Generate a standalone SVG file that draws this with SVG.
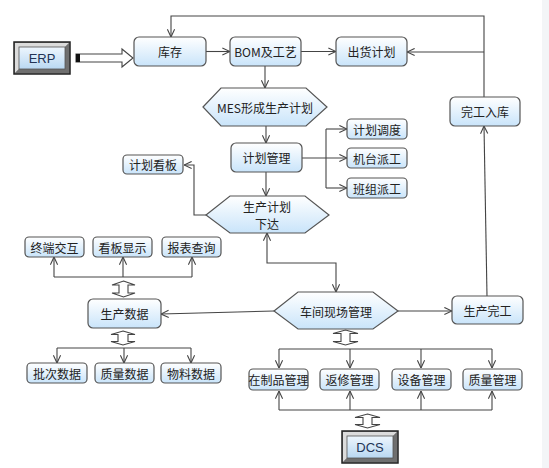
<svg xmlns="http://www.w3.org/2000/svg" width="549" height="468" viewBox="0 0 549 468">
<defs>
<linearGradient id="g" x1="0" y1="0" x2="0" y2="1">
<stop offset="0" stop-color="#ffffff"/>
<stop offset="1" stop-color="#c9e4fa"/>
</linearGradient>
<linearGradient id="gb" x1="0" y1="0" x2="0" y2="1">
<stop offset="0" stop-color="#eef6fd"/>
<stop offset="1" stop-color="#b9d8f2"/>
</linearGradient>
<marker id="a" viewBox="0 0 10 10" refX="9.5" refY="5" markerWidth="9" markerHeight="9" markerUnits="userSpaceOnUse" orient="auto-start-reverse">
<path d="M1,1 L9.5,5 L1,9" fill="none" stroke="#444" stroke-width="1.2"/>
</marker>
<style>
.b{fill:url(#g);stroke:#555;stroke-width:1.2}
.t{font-family:"Noto Sans CJK SC","Liberation Sans",sans-serif;font-size:12px;fill:#222;text-anchor:middle;dominant-baseline:central}
.c{fill:none;stroke:#444;stroke-width:1.1}
.ar{marker-end:url(#a)}
.ib{fill:#fff;stroke:#444;stroke-width:1.1}
.bt{font-family:"Liberation Sans",sans-serif;font-size:13px;fill:#223355;text-anchor:middle;dominant-baseline:central}
</style>
</defs>
<rect width="549" height="468" fill="#fff"/>
<rect x="542" y="0" width="7" height="468" fill="#f3f5f7"/>

<g id="connectors">
<line class="c ar" x1="206" y1="51.5" x2="230" y2="51.5"/>
<line class="c ar" x1="301" y1="51.5" x2="336" y2="51.5"/>
<line class="c ar" x1="265" y1="66" x2="265" y2="88"/>
<line class="c ar" x1="266" y1="126" x2="266" y2="143"/>
<line class="c ar" x1="266" y1="172" x2="266" y2="196"/>
<line class="c ar" x1="302" y1="158" x2="347" y2="158"/>
<line class="c" x1="326" y1="129" x2="326" y2="188"/>
<line class="c ar" x1="326" y1="129" x2="347" y2="129"/>
<line class="c ar" x1="326" y1="188" x2="347" y2="188"/>
<path class="c ar" d="M206,215 L194,215 L194,165 L184,165"/>
<path class="c" d="M267,233 L267,263 L336,263 L336,292" marker-start="url(#a)" marker-end="url(#a)"/>
<line class="c ar" x1="274" y1="311" x2="161" y2="314"/>
<line class="c ar" x1="398" y1="311" x2="452" y2="311"/>
<line class="c ar" x1="487" y1="296" x2="484" y2="126"/>
<path class="c ar" d="M484,97 L484,16 L171,16 L171,37"/>
<line class="c ar" x1="484" y1="52" x2="407" y2="52"/>
<line class="c" x1="54" y1="277" x2="192" y2="277"/>
<line class="c ar" x1="54" y1="277" x2="54" y2="257"/>
<line class="c ar" x1="123" y1="277" x2="123" y2="257"/>
<line class="c ar" x1="192" y1="277" x2="192" y2="257"/>
<line class="c" x1="57" y1="348" x2="191" y2="348"/>
<line class="c ar" x1="57" y1="348" x2="57" y2="363"/>
<line class="c ar" x1="124" y1="348" x2="124" y2="363"/>
<line class="c ar" x1="191" y1="348" x2="191" y2="363"/>
<line class="c" x1="279" y1="349" x2="492" y2="349"/>
<line class="c ar" x1="279" y1="349" x2="279" y2="368"/>
<line class="c ar" x1="350" y1="349" x2="350" y2="368"/>
<line class="c ar" x1="421" y1="349" x2="421" y2="368"/>
<line class="c ar" x1="492" y1="349" x2="492" y2="368"/>
<line class="c" x1="279" y1="410" x2="492" y2="410"/>
<line class="c ar" x1="279" y1="410" x2="279" y2="391"/>
<line class="c ar" x1="350" y1="410" x2="350" y2="391"/>
<line class="c ar" x1="421" y1="410" x2="421" y2="391"/>
<line class="c ar" x1="492" y1="410" x2="492" y2="391"/>
<!-- hollow double arrows -->
<polygon class="ib" points="123.5,281 135,285 128,285 128,293 135,293 123.5,297 112,293 119,293 119,285 112,285"/>
<polygon class="ib" points="123,331 135,334.5 128,334.5 128,341.5 135,341.5 123,345 111,341.5 118,341.5 118,334.5 111,334.5"/>
<polygon class="ib" points="345.5,330 358,333.5 350,333.5 350,341.5 358,341.5 345.5,345 333,341.5 341,341.5 341,333.5 333,333.5"/>
<polygon class="ib" points="367.5,414 380,417.5 372,417.5 372,424.5 380,424.5 367.5,428 355,424.5 363,424.5 363,417.5 355,417.5"/>
<!-- ERP block arrow -->
<polygon class="ib" points="76,54 122,54 122,49 133,58 122,67 122,62 76,62"/>
<rect x="76" y="54" width="4" height="8" fill="#111"/>
</g>

<g id="erp">
<rect x="14" y="42" width="56" height="32" fill="#8c8c8c" stroke="#222" stroke-width="1.5"/>
<polygon points="15,43 69,43 65,47 19,47 19,69 15,73" fill="#dcdcdc"/>
<polygon points="69,43 69,73 15,73 19,69 65,69 65,47" fill="#6f6f6f"/>
<rect x="19" y="47" width="46" height="22" fill="url(#gb)" stroke="#555" stroke-width="0.8"/>
<text class="bt" x="42" y="58">ERP</text>
</g>
<g id="dcs">
<rect x="342" y="431" width="56" height="32" fill="#8c8c8c" stroke="#222" stroke-width="1.5"/>
<polygon points="343,432 397,432 393,436 347,436 347,458 343,462" fill="#dcdcdc"/>
<polygon points="397,432 397,462 343,462 347,458 393,458 393,436" fill="#6f6f6f"/>
<rect x="347" y="436" width="46" height="22" fill="url(#gb)" stroke="#555" stroke-width="0.8"/>
<text class="bt" x="370" y="447">DCS</text>
</g>

<g id="kucun"><rect class="b" x="134" y="37" width="72" height="29" rx="5"/><text class="t" x="170" y="51.5">库存</text></g>
<g id="bom"><rect class="b" x="230" y="37" width="71" height="29" rx="5"/><text class="t" x="265.5" y="51.5">BOM及工艺</text></g>
<g id="chuhuo"><rect class="b" x="336" y="37" width="71" height="29" rx="5"/><text class="t" x="371.5" y="51.5">出货计划</text></g>
<g id="mes"><polygon class="b" points="203,107 221,88 306,88 327,107 306,126 221,126"/><text class="t" x="265" y="107">MES形成生产计划</text></g>
<g id="wangong-ruku"><rect class="b" x="450" y="97" width="70" height="29" rx="5"/><text class="t" x="485" y="111.5">完工入库</text></g>
<g id="jihua-guanli"><rect class="b" x="231" y="143" width="71" height="29" rx="5"/><text class="t" x="266.5" y="157.5">计划管理</text></g>
<g id="jihua-diaodu"><rect class="b" x="347" y="119" width="60" height="20" rx="4"/><text class="t" x="377" y="129">计划调度</text></g>
<g id="jitai"><rect class="b" x="347" y="148" width="60" height="20" rx="4"/><text class="t" x="377" y="158">机台派工</text></g>
<g id="banzu"><rect class="b" x="347" y="178" width="60" height="20" rx="4"/><text class="t" x="377" y="188">班组派工</text></g>
<g id="kanban"><rect class="b" x="123" y="155" width="60" height="19" rx="4"/><text class="t" x="153" y="164.5">计划看板</text></g>
<g id="xiada"><polygon class="b" points="206,215 230,196 305,196 329,215 305,233 230,233"/><text class="t" x="267" y="206">生产计划</text><text class="t" x="267" y="223">下达</text></g>
<g id="zhongduan"><rect class="b" x="25" y="237" width="59" height="20" rx="4"/><text class="t" x="54.5" y="247">终端交互</text></g>
<g id="kanban-xianshi"><rect class="b" x="93" y="237" width="59" height="20" rx="4"/><text class="t" x="122.5" y="247">看板显示</text></g>
<g id="baobiao"><rect class="b" x="162" y="237" width="59" height="20" rx="4"/><text class="t" x="191.5" y="247">报表查询</text></g>
<g id="shengchan-shuju"><rect class="b" x="88" y="299" width="73" height="29" rx="5"/><text class="t" x="124.5" y="313.5">生产数据</text></g>
<g id="chejian"><polygon class="b" points="274,311 298,292 373,292 398,311 373,329 298,329"/><text class="t" x="336" y="311">车间现场管理</text></g>
<g id="shengchan-wangong"><rect class="b" x="452" y="296" width="71" height="28" rx="5"/><text class="t" x="487.5" y="310">生产完工</text></g>
<g id="pici"><rect class="b" x="27" y="363" width="60" height="20" rx="4"/><text class="t" x="57" y="373">批次数据</text></g>
<g id="zhiliang-shuju"><rect class="b" x="95" y="363" width="59" height="20" rx="4"/><text class="t" x="124.5" y="373">质量数据</text></g>
<g id="wuliao"><rect class="b" x="161" y="363" width="60" height="20" rx="4"/><text class="t" x="191" y="373">物料数据</text></g>
<g id="zaizhipin"><rect class="b" x="249" y="369" width="59" height="21" rx="4"/><text class="t" x="278.5" y="379.5">在制品管理</text></g>
<g id="fanxiu"><rect class="b" x="320" y="369" width="59" height="21" rx="4"/><text class="t" x="349.5" y="379.5">返修管理</text></g>
<g id="shebei"><rect class="b" x="392" y="369" width="59" height="21" rx="4"/><text class="t" x="421.5" y="379.5">设备管理</text></g>
<g id="zhiliang-guanli"><rect class="b" x="463" y="369" width="59" height="21" rx="4"/><text class="t" x="492.5" y="379.5">质量管理</text></g>
</svg>
